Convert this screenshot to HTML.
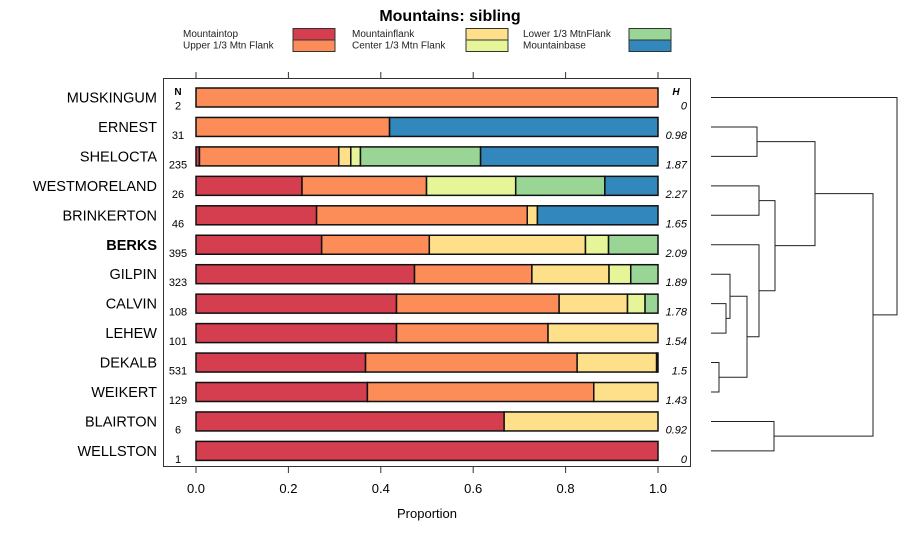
<!DOCTYPE html>
<html><head><meta charset="utf-8"><style>
body{margin:0;background:#fff}
svg text{font-family:"Liberation Sans",sans-serif}
</style></head><body>
<svg id="c" width="900" height="540" xmlns="http://www.w3.org/2000/svg"></svg>
<script>
const categories=["MUSKINGUM","ERNEST","SHELOCTA","WESTMORELAND","BRINKERTON","BERKS","GILPIN","CALVIN","LEHEW","DEKALB","WEIKERT","BLAIRTON","WELLSTON"];
const seriesNames=["Mountaintop","Upper 1/3 Mtn Flank","Mountainflank","Center 1/3 Mtn Flank","Lower 1/3 MtnFlank","Mountainbase"];
const mountaintop=[0,0,0.0075,0.2295,0.261,0.272,0.473,0.434,0.434,0.367,0.371,0.667,1];
const upperFlank=[1,0.419,0.3015,0.2695,0.456,0.233,0.254,0.352,0.328,0.458,0.49,0,0];
const mountainflank=[0,0,0.026,0,0.022,0.338,0.167,0.148,0.238,0.172,0.139,0.333,0];
const centerFlank=[0,0,0.021,0.193,0,0.05,0.047,0.038,0,0,0,0,0];
const lowerFlank=[0,0,0.26,0.193,0,0.107,0.059,0.028,0,0.003,0,0,0];
const mountainbase=[0,0.581,0.384,0.115,0.261,0,0,0,0,0,0,0,0];
const nValues=["2","31","235","26","46","395","323","108","101","531","129","6","1"];
const hValues=["0","0.98","1.87","2.27","1.65","2.09","1.89","1.78","1.54","1.5","1.43","0.92","0"];
const xTicks=[0,0.2,0.4,0.6,0.8,1.0];
const xTickLabels=["0.0","0.2","0.4","0.6","0.8","1.0"];
const colors=["#d53e4f","#fc8d59","#fee08b","#e6f598","#99d594","#3288bd"];
const series=[mountaintop,upperFlank,mountainflank,centerFlank,lowerFlank,mountainbase];
const merges=[[7,8,726],[6,"m0",730],[9,10,719],["m1","m2",747],[5,"m3",759],[3,4,759],["m5","m4",775],[1,2,757],["m7","m6",815],[11,12,774],["m8","m9",873],[0,"m10",897]];

const S="http://www.w3.org/2000/svg",svg=document.getElementById("c");
function el(t,a,p){const e=document.createElementNS(S,t);for(const k in a)e.setAttribute(k,a[k]);(p||svg).appendChild(e);return e;}
const x=v=>196+v*462, y=i=>97.5+i*29.45;
let t=el("text",{x:450,y:21,"text-anchor":"middle","font-size":16,"font-weight":"bold"});t.textContent="Mountains: sibling";


const lx=[183,352,523],sx=[293,466,629];
seriesNames.forEach((n,i)=>{const c=Math.floor(i/2),r=i%2;
 const g=el("g",{});
 
 
 const tt=el("text",{x:lx[c],y:37+r*11.5,"font-size":10,fill:"#222"},g);tt.textContent=n;
 el("rect",{x:sx[c],y:28.5+r*11.5,width:42,height:11.5,fill:colors[i],stroke:"#333","stroke-width":1},g);});
const p=el("rect",{x:163.5,y:78.5,width:527,height:388,fill:"none",stroke:"#333"});


xTicks.forEach((v,i)=>{
 el("line",{x1:x(v),x2:x(v),y1:72,y2:78,stroke:"#333"});
 el("line",{x1:x(v),x2:x(v),y1:467,y2:473,stroke:"#333"});
 const l=el("text",{x:x(v),y:493,"text-anchor":"middle","font-size":13});l.textContent=xTickLabels[i];
 
 });
t=el("text",{x:427,y:518,"text-anchor":"middle","font-size":13});t.textContent="Proportion";


t=el("text",{x:178,y:95,"text-anchor":"middle","font-size":10,"font-weight":"bold"});t.textContent="N";
t=el("text",{x:676,y:95,"text-anchor":"middle","font-size":10,"font-weight":"bold","font-style":"italic"});t.textContent="H";
categories.forEach((c,i)=>{
 const cy=y(i);
 const lab=el("text",{x:157,y:cy+5,"text-anchor":"end","font-size":14.5,"font-weight":c==="BERKS"?"bold":"normal"});lab.textContent=c;
 
 
 const n=el("text",{x:178,y:cy+12,"text-anchor":"middle","font-size":11});n.textContent=nValues[i];
 
 
 const h=el("text",{x:687,y:cy+12,"text-anchor":"end","font-size":11,"font-style":"italic"});h.textContent=hValues[i];
 
 
 let acc=0;
 series.forEach((s,k)=>{const v=s[i];if(v<=0)return;
  const r=el("rect",{x:x(acc),y:cy-9.5,width:x(acc+v)-x(acc),height:19,fill:colors[k],stroke:"#111","stroke-width":1.5});
  
  
  acc+=v;});
});
const pos={},leafX=711;
function node(c){if(typeof c==="number")return {x:leafX,y:y(c)};return pos[c];}
merges.forEach((m,i)=>{const a=node(m[0]),b=node(m[1]),hx=m[2];
 const pth=el("path",{d:`M${a.x},${a.y}H${hx}V${b.y}H${b.x}`,fill:"none",stroke:"#222","stroke-width":1});
 
 
 pos["m"+i]={x:hx,y:(a.y+b.y)/2};});
</script>
</body></html>
